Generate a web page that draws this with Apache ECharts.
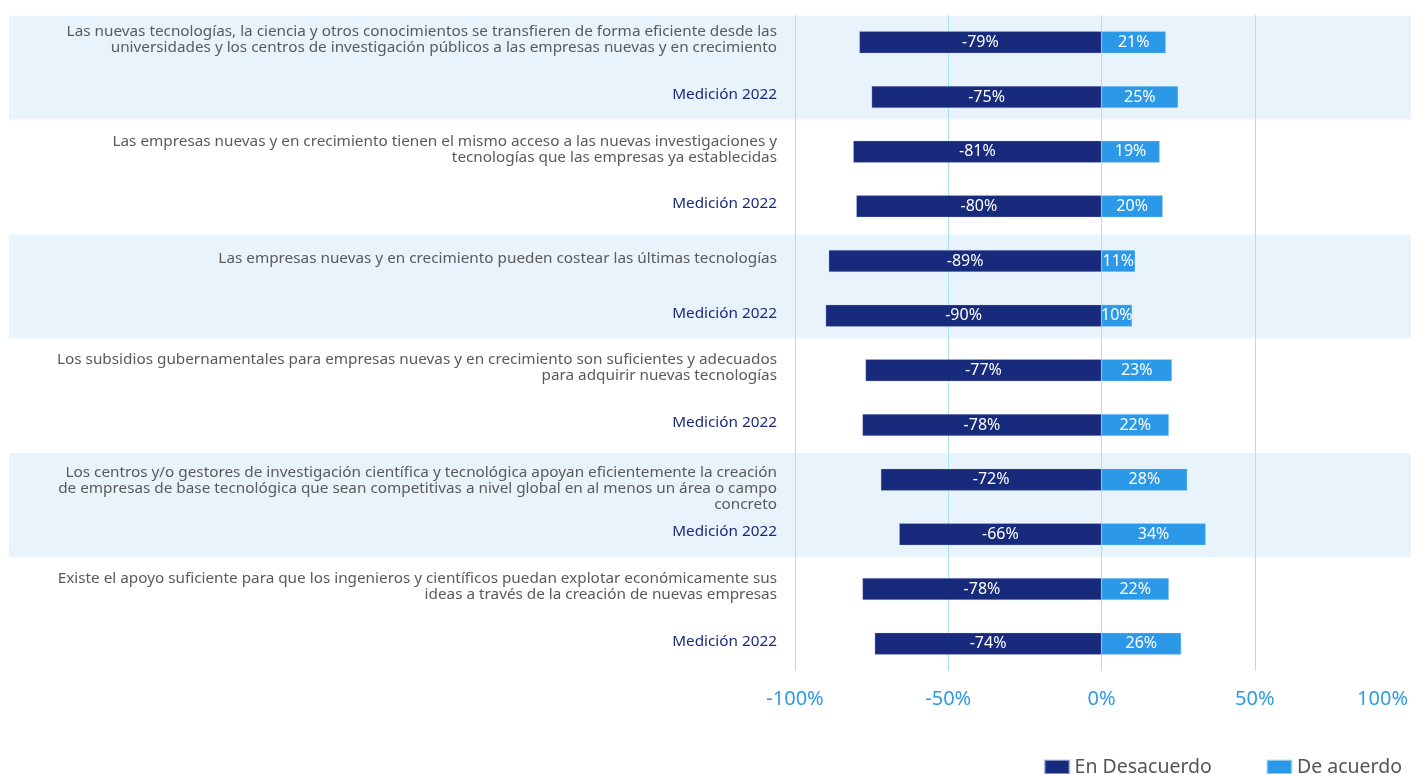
<!DOCTYPE html>
<html>
<head>
<meta charset="utf-8">
<script src="https://cdn.jsdelivr.net/npm/echarts@6/dist/echarts.min.js"></script>
<style>
  html, body { margin: 0; padding: 0; background: #ffffff; }
  #chart { width: 1411px; height: 774px; }
</style>
</head>
<body>
<div id="chart"></div>
<script>
// Statements (each followed by its 2022 measurement row)
const statements = [
  'Las nuevas tecnologías, la ciencia y otros conocimientos se transfieren de forma eficiente desde las\nuniversidades y los centros de investigación públicos a las empresas nuevas y en crecimiento',
  'Las empresas nuevas y en crecimiento tienen el mismo acceso a las nuevas investigaciones y\ntecnologías que las empresas ya establecidas',
  'Las empresas nuevas y en crecimiento pueden costear las últimas tecnologías',
  'Los subsidios gubernamentales para empresas nuevas y en crecimiento son suficientes y adecuados\npara adquirir nuevas tecnologías',
  'Los centros y/o gestores de investigación científica y tecnológica apoyan eficientemente la creación\nde empresas de base tecnológica que sean competitivas a nivel global en al menos un área o campo\nconcreto',
  'Existe el apoyo suficiente para que los ingenieros y científicos puedan explotar económicamente sus\nideas a través de la creación de nuevas empresas'
];
const comparisonLabel = 'Medición 2022';

// Row categories: statement, then its 2022 row
const categories = [];
statements.forEach(function (s) { categories.push(s); categories.push(comparisonLabel); });

// Percentages per row (same order as categories)
const desacuerdo = [-79, -75, -81, -80, -89, -90, -77, -78, -72, -66, -78, -74];
const deAcuerdo  = [21, 25, 19, 20, 11, 10, 23, 22, 28, 34, 22, 26];

// Axis ticks
const xTicks = [-100, -50, 0, 50, 100];

// Shaded groups (1 = shaded background)
const bandShade = [1, 0, 1, 0, 1, 0];

const navy = '#172a7c';
const sky = '#2b99e8';
const font = '"Noto Sans", "Open Sans", sans-serif';

const chart = echarts.init(document.getElementById('chart'), null, { renderer: 'canvas' });

// Row label: statements in grey, comparison rows in navy.
// Long statements (3 lines) hang below the row like a 2-line block.
function rowLabel(value, index) {
  const text = categories[index];
  const tag = (index % 2 === 1) ? 'm' : 's';
  const lines = text.split('\n').map(function (l) { return '{' + tag + '|' + l + '}'; });
  if (lines.length > 2) lines.unshift('{gap| }');
  return lines.join('\n');
}

chart.setOption({
  animation: false,
  textStyle: { fontFamily: font },
  grid: [
    { left: 795, right: 0, top: 15, bottom: 103 },
    { left: 9, right: 0, top: 13, bottom: 105 }
  ],
  legend: {
    right: 4,
    top: 752,
    icon: 'rect',
    itemWidth: 25,
    itemHeight: 14,
    itemGap: 54,
    textStyle: { fontSize: 19.5, lineHeight: 20, color: '#555555', fontFamily: font },
    data: ['En Desacuerdo', 'De acuerdo']
  },
  xAxis: [
    {
      type: 'value',
      gridIndex: 0,
      min: xTicks[0],
      max: xTicks[xTicks.length - 1],
      interval: 50,
      z: 1,
      axisLine: { show: false },
      axisTick: { show: false },
      splitLine: { show: true, showMaxLine: false, lineStyle: { color: '#a9e2ea', width: 1 } },
      axisLabel: {
        margin: 18,
        fontSize: 20,
        color: '#2f9be6',
        alignMaxLabel: 'right',
        formatter: function (v) { return v + '%'; }
      }
    },
    { type: 'value', gridIndex: 1, min: 0, max: 1, show: false }
  ],
  yAxis: [
    {
      type: 'category',
      gridIndex: 0,
      inverse: true,
      data: categories,
      axisLine: { show: false },
      axisTick: { show: false },
      splitLine: { show: false },
      axisLabel: {
        margin: 18,
        interval: 0,
        align: 'right',
        padding: [0, 0, 5, 0],
        formatter: rowLabel,
        rich: {
          s: { fontSize: 15.3, color: '#5a5a5a', lineHeight: 16, align: 'right', fontFamily: font },
          m: { fontSize: 15.3, color: '#1c2a7a', lineHeight: 16, align: 'right', fontFamily: font },
          gap: { fontSize: 10, lineHeight: 22 }
        }
      }
    },
    {
      type: 'category',
      gridIndex: 1,
      inverse: true,
      data: statements.map(function (_, i) { return 'g' + i; }),
      show: false
    }
  ],
  series: [
    {
      name: 'bands',
      type: 'bar',
      xAxisIndex: 1,
      yAxisIndex: 1,
      data: bandShade,
      barWidth: '95%',
      silent: true,
      z: 0,
      itemStyle: { color: '#e8f3fc' },
      legendHoverLink: false
    },
    {
      name: 'En Desacuerdo',
      type: 'bar',
      xAxisIndex: 0,
      yAxisIndex: 0,
      stack: 'total',
      barWidth: 22,
      data: desacuerdo,
      z: 2,
      itemStyle: { color: navy, borderColor: 'rgba(200,210,240,0.6)', borderWidth: 0.5 },
      label: {
        show: true,
        position: 'inside',
        color: '#ffffff',
        fontSize: 16,
        fontFamily: font,
        formatter: function (p) { return p.value + '%'; }
      }
    },
    {
      name: 'De acuerdo',
      type: 'bar',
      xAxisIndex: 0,
      yAxisIndex: 0,
      stack: 'total',
      barWidth: 22,
      data: deAcuerdo,
      z: 2,
      itemStyle: { color: sky, borderColor: 'rgba(200,230,250,0.6)', borderWidth: 0.5 },
      label: {
        show: true,
        position: 'inside',
        color: '#ffffff',
        fontSize: 16,
        fontFamily: font,
        formatter: function (p) { return p.value + '%'; }
      }
    }
  ]
});
</script>
</body>
</html>
